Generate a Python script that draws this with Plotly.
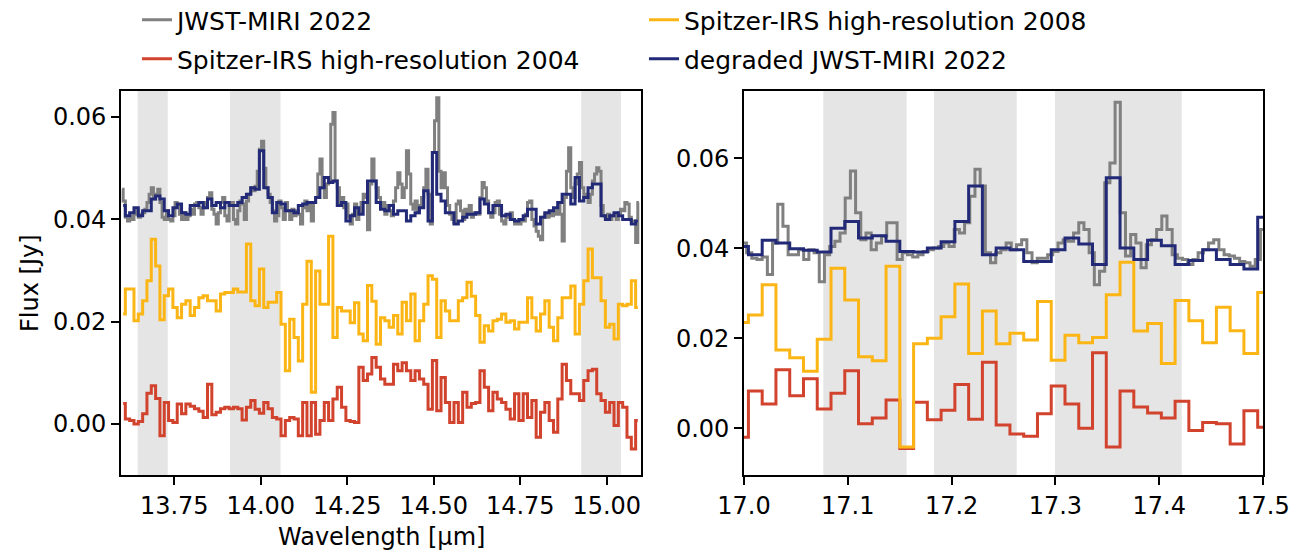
import numpy as np
import plotly.graph_objects as go

# ---------------- data: left panel (13.6 - 15.1 micron) ----------------
left_bin_start = 13.596
left_bin_width = 0.0125
jwst_left_step = 0.00625

spitzer2004_left = [
    0.004, 0.001, 0.0007, 0.0, 0.0005, 0.002, 0.006, 0.0075, 0.005, -0.0023,
    0.0042, 0.0007, 0.0003, 0.0039, 0.002, 0.0039, 0.0035, 0.003, 0.0025, 0.0013,
    0.0078, 0.0018, 0.0023, 0.003, 0.0033, 0.003, 0.0033, 0.003, 0.0008, 0.0033,
    0.0046, 0.0029, 0.0021, 0.0042, 0.003, 0.0013, 0.001, -0.0023, 0.0007, 0.0013,
    0.001, -0.0023, 0.0042, -0.0023, 0.0042, -0.002, 0.0007, 0.0042, 0.0007, 0.0049,
    0.0072, 0.0033, 0.0007, 0.0005, 0.0003, 0.0111, 0.0085, 0.0098, 0.013, 0.0111,
    0.0088, 0.0078, 0.0078, 0.0117, 0.0104, 0.012, 0.0104, 0.0085, 0.0104, 0.0088,
    0.0078, 0.0029, 0.0124, 0.0026, 0.0091, 0.0042, 0.0003, 0.0042, 0.0003, 0.0062,
    0.0033, 0.004, 0.0042, 0.0104, 0.0072, 0.0026, 0.0062, 0.0049, 0.0042, 0.0029,
    0.001, 0.0059, 0.0007, 0.0059, 0.0013, 0.0046, -0.0026, 0.0023, 0.0042, 0.0007,
    -0.0016, 0.0049, 0.0117, 0.0085, 0.0059, 0.0059, 0.0046, 0.0085, 0.0104, 0.0107,
    0.0059, 0.0046, 0.0023, 0.0042, -0.0003, 0.0042, 0.0033, -0.0026, -0.0049, 0.0007,
]

spitzer2008_left = [
    0.0215, 0.0264, 0.0264, 0.0202, 0.0215, 0.0241, 0.028, 0.0361, 0.0309, 0.0204,
    0.0251, 0.0264, 0.0228, 0.0208, 0.0234, 0.0241, 0.0212, 0.0228, 0.0247, 0.0251,
    0.0241, 0.0241, 0.0221, 0.0254, 0.0257, 0.0257, 0.0264, 0.0258, 0.0258, 0.0352,
    0.0241, 0.0231, 0.0303, 0.0228, 0.0238, 0.0238, 0.0257, 0.0195, 0.0104, 0.0205,
    0.0169, 0.0123, 0.0234, 0.0318, 0.0062, 0.0299, 0.0234, 0.0234, 0.0367, 0.0169,
    0.0228, 0.0221, 0.0221, 0.0198, 0.0237, 0.0176, 0.0163, 0.0271, 0.024, 0.0156,
    0.0208, 0.0202, 0.0189, 0.0212, 0.0176, 0.0238, 0.0202, 0.0254, 0.0163, 0.0202,
    0.0234, 0.029, 0.0283, 0.0169, 0.0241, 0.0221, 0.0202, 0.0202, 0.0241, 0.0247,
    0.0277, 0.025, 0.0212, 0.016, 0.0192, 0.0182, 0.0202, 0.0205, 0.0215, 0.0199,
    0.0202, 0.0186, 0.0199, 0.0199, 0.0247, 0.0208, 0.0182, 0.0215, 0.0241, 0.0189,
    0.0163, 0.0208, 0.0247, 0.0247, 0.027, 0.0176, 0.0234, 0.028, 0.0342, 0.0286,
    0.0286, 0.0241, 0.0189, 0.0195, 0.0166, 0.0234, 0.0231, 0.0234, 0.028, 0.0228,
]

degraded_left = [
    0.0427, 0.0407, 0.0413, 0.0423, 0.0407, 0.0417, 0.0417, 0.044, 0.0446, 0.044,
    0.0417, 0.0407, 0.0423, 0.043, 0.0413, 0.041, 0.0427, 0.0427, 0.0433, 0.0423,
    0.044, 0.0427, 0.0433, 0.0423, 0.0433, 0.0427, 0.0427, 0.0433, 0.0443, 0.0449,
    0.0462, 0.0459, 0.0534, 0.0462, 0.0443, 0.0413, 0.0433, 0.043, 0.0417, 0.0417,
    0.0413, 0.0427, 0.043, 0.0433, 0.0433, 0.0443, 0.0462, 0.0482, 0.0472, 0.0475,
    0.0427, 0.0433, 0.0397, 0.0407, 0.0423, 0.041, 0.0433, 0.0475, 0.0475, 0.0433,
    0.042, 0.0417, 0.0427, 0.041, 0.0417, 0.0417, 0.0397, 0.0407, 0.0413, 0.0423,
    0.0456, 0.0397, 0.0531, 0.0449, 0.0436, 0.0413, 0.0413, 0.0391, 0.0397, 0.0404,
    0.041, 0.041, 0.0413, 0.044, 0.043, 0.0413, 0.0427, 0.0427, 0.0407, 0.041,
    0.04, 0.0397, 0.04, 0.0407, 0.042, 0.042, 0.0391, 0.0404, 0.0413, 0.0417,
    0.0423, 0.0433, 0.0449, 0.0449, 0.043, 0.0482, 0.0436, 0.0443, 0.0462, 0.0469,
    0.0469, 0.0407, 0.04, 0.0407, 0.0413, 0.0407, 0.04, 0.04, 0.0391, 0.0397,
]

jwst_left = [
    0.0459, 0.0436, 0.0404, 0.0397, 0.0407, 0.04, 0.041, 0.0417, 0.0404, 0.041,
    0.0413, 0.042, 0.0433, 0.0449, 0.0462, 0.044, 0.0449, 0.0459, 0.0433, 0.0404,
    0.04, 0.0417, 0.04, 0.0397, 0.0407, 0.0433, 0.0427, 0.041, 0.04, 0.0413,
    0.04, 0.0407, 0.042, 0.041, 0.043, 0.0433, 0.0423, 0.041, 0.0423, 0.0433,
    0.0443, 0.0452, 0.042, 0.041, 0.0391, 0.0413, 0.0433, 0.0443, 0.0407, 0.0397,
    0.0427, 0.0433, 0.04, 0.0391, 0.0417, 0.0436, 0.043, 0.04, 0.0436, 0.0449,
    0.0462, 0.0456, 0.0465, 0.0494, 0.0537, 0.0553, 0.05, 0.0462, 0.0449, 0.0433,
    0.0417, 0.0397, 0.0407, 0.0436, 0.0423, 0.04, 0.0433, 0.0417, 0.04, 0.042,
    0.0407, 0.0417,
    0.041, 0.0391, 0.0423, 0.0436, 0.0417, 0.043, 0.0397, 0.0433, 0.0443, 0.0489,
    0.0518, 0.0462, 0.0443, 0.0469, 0.0475, 0.0586, 0.0609, 0.0475, 0.0462, 0.0433,
    0.0443, 0.0423, 0.043, 0.0404, 0.0391, 0.041, 0.043, 0.04, 0.0413, 0.0433,
    0.0449, 0.0443, 0.038, 0.0469, 0.0518, 0.0475, 0.0462, 0.0443, 0.0423, 0.0433,
    0.041, 0.0427, 0.0417, 0.0407, 0.0436, 0.0462, 0.0491, 0.0469, 0.0443, 0.0462,
    0.0534, 0.0489, 0.043, 0.042, 0.0436, 0.0413, 0.0427, 0.0443, 0.0462, 0.0498,
    0.0449, 0.0391, 0.0531, 0.0593, 0.0638, 0.0494, 0.0462, 0.0491, 0.0462, 0.0427,
    0.041, 0.04, 0.0394, 0.043, 0.0436, 0.0417, 0.04, 0.042, 0.041, 0.0427,
    0.0404, 0.0413,
    0.0413, 0.041, 0.0443, 0.0472, 0.0462, 0.0436, 0.0413, 0.0404, 0.0413, 0.0433,
    0.0436, 0.041, 0.0397, 0.0391, 0.0404, 0.0407, 0.0413, 0.04, 0.0391, 0.0394,
    0.0391, 0.04, 0.0397, 0.041, 0.0433, 0.0436, 0.04, 0.0387, 0.0377, 0.0367,
    0.036, 0.0404, 0.041, 0.0404, 0.0413, 0.0407, 0.0417, 0.041, 0.0433, 0.041,
    0.0358, 0.0443, 0.0494, 0.054, 0.0462, 0.0443, 0.0469, 0.0489, 0.0511, 0.0462,
    0.0443, 0.0449, 0.0433, 0.0449, 0.0475, 0.0489, 0.0501, 0.0494, 0.0427, 0.0407,
    0.0404, 0.041, 0.04, 0.0407, 0.041, 0.04, 0.0413, 0.042, 0.0417, 0.0433,
    0.043, 0.0404, 0.0397, 0.0397, 0.0355, 0.0433,
]

# ---------------- data: right panel (17.0 - 17.5 micron) ----------------
right_bin_start = 16.991
right_bin_width = 0.01326
jwst_right_start = 17.0
jwst_right_step = 0.005

spitzer2004_right = [
    -0.002, 0.0083, 0.0054, 0.013, 0.0072, 0.011, 0.0043, 0.0078, 0.0128, 0.001,
    0.0023, 0.0063, -0.0045, 0.0058, 0.0019, 0.004, 0.0097, 0.002, 0.0147, 0.0007,
    -0.0013, -0.0018, 0.0032, 0.0094, 0.0054, 0.0, 0.0168, -0.0042, 0.0083, 0.0047,
    0.0034, 0.0023, 0.006, -0.0005, 0.0013, 0.001, -0.0035, 0.0039, 0.0002,
]

spitzer2008_right = [
    0.0235, 0.0252, 0.0319, 0.0174, 0.0157, 0.0127, 0.0198, 0.0356, 0.0285, 0.0159,
    0.015, 0.036, -0.0042, 0.0188, 0.02, 0.0248, 0.0321, 0.0166, 0.0261, 0.0188,
    0.0211, 0.0196, 0.0282, 0.0151, 0.0207, 0.019, 0.0202, 0.0297, 0.0369, 0.0216,
    0.0233, 0.0144, 0.0284, 0.0239, 0.019, 0.0269, 0.0217, 0.0166, 0.0302,
]

degraded_right = [
    0.0404, 0.0386, 0.0418, 0.0412, 0.0399, 0.0396, 0.0392, 0.0445, 0.046, 0.0423,
    0.0428, 0.0416, 0.0393, 0.0392, 0.0401, 0.0415, 0.046, 0.0539, 0.0386, 0.0401,
    0.0397, 0.0371, 0.0371, 0.0397, 0.0423, 0.041, 0.0364, 0.0557, 0.0401, 0.0375,
    0.0418, 0.0406, 0.0364, 0.0373, 0.0397, 0.0375, 0.0364, 0.0354, 0.0469,
]

jwst_right = [
    0.0412, 0.039, 0.0378, 0.0375, 0.0381, 0.0342, 0.0412, 0.0498, 0.0449, 0.0386,
    0.0386, 0.0397, 0.0375, 0.0397, 0.039, 0.0326, 0.0386, 0.0404, 0.0416, 0.0434,
    0.0512, 0.0572, 0.0479, 0.0419, 0.0434, 0.0397, 0.0412, 0.0427, 0.0457, 0.0457,
    0.0375, 0.039, 0.0386, 0.0381, 0.0386, 0.0393, 0.0397, 0.0401, 0.0404, 0.0412,
    0.0404, 0.0442, 0.0434, 0.0457, 0.0516, 0.0576, 0.0539, 0.039, 0.0368, 0.039,
    0.0397, 0.0412, 0.0397, 0.0408, 0.0419, 0.039, 0.0368, 0.0378, 0.0378, 0.0386,
    0.0393, 0.0412, 0.0419, 0.0416, 0.0434, 0.0457, 0.0442, 0.039, 0.0319, 0.0349,
    0.0546, 0.059, 0.0725, 0.0479, 0.0383, 0.0431, 0.0412, 0.0357, 0.0408, 0.0419,
    0.0442, 0.0472, 0.0442, 0.0386, 0.0378, 0.0375, 0.0364, 0.0375, 0.039, 0.0397,
    0.0412, 0.0419, 0.0397, 0.0386, 0.0383, 0.0378, 0.0371, 0.0368, 0.036, 0.0375,
    0.0442,
]

# shaded wavelength windows
bands_left = [(13.644, 13.731), (13.911, 14.057), (14.926, 15.041)]
bands_right = [(17.0764, 17.1567), (17.183, 17.2627), (17.2996, 17.4217)]

left_ticks = [13.75, 14.00, 14.25, 14.50, 14.75, 15.00]
right_ticks = [17.0, 17.1, 17.2, 17.3, 17.4, 17.5]
flux_ticks = [0.00, 0.02, 0.04, 0.06]

series_names = ["JWST-MIRI 2022", "Spitzer-IRS high-resolution 2004",
                "Spitzer-IRS high-resolution 2008", "degraded JWST-MIRI 2022"]

# ---------------- wavelength grids ----------------
wl_spitzer_left = left_bin_start + left_bin_width * (np.arange(len(spitzer2004_left)) + 0.5)
wl_jwst_left = left_bin_start + jwst_left_step * (np.arange(len(jwst_left)) + 0.5)
wl_spitzer_right = right_bin_start + right_bin_width * (np.arange(len(spitzer2004_right)) + 0.5)
wl_jwst_right = jwst_right_start + jwst_right_step * np.arange(len(jwst_right))

# ---------------- styling ----------------
FONT = "DejaVu Sans"
C_GRAY = "#808080"
C_RED = "#d2432e"
C_YEL = "#fbb616"
C_NAVY = "#222a78"
LW = 3.0

fig = go.Figure()

def add(x, y, color, name, xa, ya, show, legend, rank):
    fig.add_trace(go.Scatter(
        x=x, y=y, mode="lines", line=dict(color=color, width=LW, shape="hvh"),
        name=name, showlegend=show, legend=legend, legendrank=rank,
        xaxis=xa, yaxis=ya, hoverinfo="skip"))

# left panel
add(wl_jwst_left, jwst_left, C_GRAY, series_names[0], "x", "y", True, "legend", 1)
add(wl_spitzer_left, spitzer2004_left, C_RED, series_names[1], "x", "y", True, "legend2", 1)
add(wl_spitzer_left, spitzer2008_left, C_YEL, series_names[2], "x", "y", True, "legend", 2)
add(wl_spitzer_left, degraded_left, C_NAVY, series_names[3], "x", "y", True, "legend2", 2)
# right panel
add(wl_jwst_right, jwst_right, C_GRAY, series_names[0], "x2", "y2", False, "legend", 1)
add(wl_spitzer_right, spitzer2004_right, C_RED, series_names[1], "x2", "y2", False, "legend2", 1)
add(wl_spitzer_right, spitzer2008_right, C_YEL, series_names[2], "x2", "y2", False, "legend", 2)
add(wl_spitzer_right, degraded_right, C_NAVY, series_names[3], "x2", "y2", False, "legend2", 2)

shapes = []
for x0, x1 in bands_left:
    shapes.append(dict(type="rect", xref="x", yref="y domain", x0=x0, x1=x1, y0=0, y1=1,
                       fillcolor="#e5e5e5", line=dict(width=0), layer="below"))
for x0, x1 in bands_right:
    shapes.append(dict(type="rect", xref="x2", yref="y2 domain", x0=x0, x1=x1, y0=0, y1=1,
                       fillcolor="#e5e5e5", line=dict(width=0), layer="below"))

# the page body adds an 8 px offset; the figure is sized so that it fits the window
OFF = 8
W, H = 1301 - OFF, 554 - OFF

def px(x):
    return (x - OFF) / W

def py(y):
    return 1 - (y - OFF) / H

ydom = [py(475), py(91)]

axis_common = dict(showline=True, mirror=True, linecolor="black", linewidth=1.6,
                   ticks="outside", ticklen=8, tickwidth=1.6, tickcolor="black",
                   showgrid=False, zeroline=False, automargin=False,
                   tickfont=dict(family=FONT, size=24, color="black"))

legend_common = dict(orientation="h", xanchor="left", yanchor="middle",
                     entrywidth=462, entrywidthmode="pixels", bgcolor="rgba(0,0,0,0)",
                     font=dict(family=FONT, size=25, color="black"), traceorder="normal")

fig.update_layout(
    width=W, height=H, autosize=False,
    margin=dict(l=0, r=0, t=0, b=0, autoexpand=False),
    paper_bgcolor="white", plot_bgcolor="white",
    font=dict(family=FONT, size=24, color="black"),
    shapes=shapes,
    xaxis=dict(domain=[px(121), px(641)], range=[13.596, 15.099], anchor="y",
               tickvals=left_ticks, ticktext=[f"{v:.2f}" for v in left_ticks], **axis_common),
    yaxis=dict(domain=ydom, range=[-0.00996, 0.0651], anchor="x",
               tickvals=flux_ticks, ticktext=[f"{v:.2f}" for v in flux_ticks], **axis_common),
    xaxis2=dict(domain=[px(744), px(1263)], range=[17.0, 17.5], anchor="y2",
                tickvals=right_ticks, ticktext=[f"{v:.1f}" for v in right_ticks], **axis_common),
    yaxis2=dict(domain=ydom, range=[-0.0104, 0.075], anchor="x2",
                tickvals=flux_ticks, ticktext=[f"{v:.2f}" for v in flux_ticks], **axis_common),
    legend=dict(x=px(137), y=py(20), **legend_common),
    legend2=dict(x=px(137), y=py(59), **legend_common),
    annotations=[
        dict(text="Flux [Jy]", x=px(30), y=py(283), xref="paper", yref="paper",
             textangle=-90, showarrow=False, font=dict(family=FONT, size=24, color="black"),
             xanchor="center", yanchor="middle"),
        dict(text="Wavelength [µm]", x=px(381), y=py(537), xref="paper", yref="paper",
             showarrow=False, font=dict(family=FONT, size=24, color="black"),
             xanchor="center", yanchor="middle"),
    ],
)

fig.write_html("out.html")
